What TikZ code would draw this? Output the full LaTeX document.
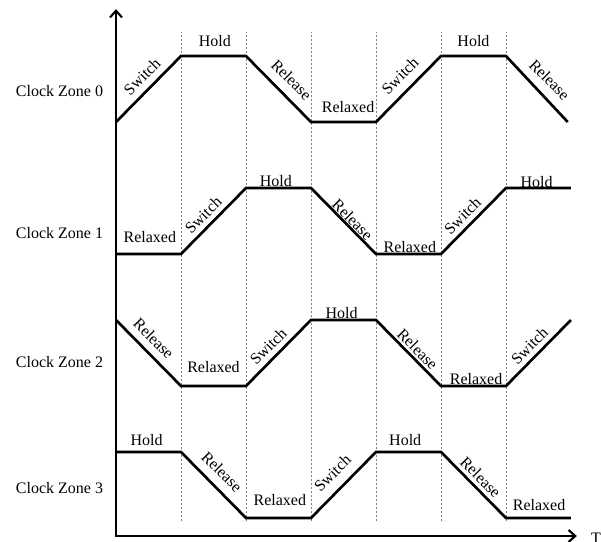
\documentclass[tikz,border=0pt]{standalone}
\usepackage{fontspec}
\setmainfont{Liberation Serif}
\usetikzlibrary{arrows.meta}

\begin{document}
\begin{tikzpicture}[x=48.75pt, y=49.5pt]

\tikzstyle{every node} = [font=\fontsize{12}{14}\selectfont, inner sep=0pt]
\tikzstyle{wave} = [line width=2pt, line join=miter]
\tikzstyle{slot} = [gray, line width=0.5pt, dash pattern=on 1.5pt off 1.5pt]
\tikzstyle{axis} = [line width=2pt, >={Straight Barb[length=5pt,width=9pt,line width=1.6pt]}, <->]
\tikzstyle{up} = [rotate=45]
\tikzstyle{down} = [rotate=-45]

\useasboundingbox (-1.785,-0.364) rectangle (7.462,7.849);

% slot boundaries
\draw[slot] (1,-0.05) -- (1,7.36);
\draw[slot] (2,-0.05) -- (2,7.36);
\draw[slot] (3,-0.05) -- (3,7.36);
\draw[slot] (4,-0.05) -- (4,7.36);
\draw[slot] (5,-0.05) -- (5,7.36);
\draw[slot] (6,-0.05) -- (6,7.36);

% axes
\coordinate (o) at (0,-0.273);
\coordinate (v) at (0,7.71);
\coordinate (t) at (7.09,-0.273);
\draw[axis] (v) -- (o) -- (t);
\node[anchor=north] (tl) at (7.385,-0.227) {T};

% zone names
\node (z0) at (-0.87,6.47) {Clock Zone 0};
\node (z1) at (-0.87,4.32) {Clock Zone 1};
\node (z2) at (-0.87,2.36) {Clock Zone 2};
\node (z3) at (-0.87,0.455) {Clock Zone 3};

% waveforms
\draw[wave] (0,6) -- (1,7) -- (2,7) -- (3,6) -- (4,6) -- (5,7) -- (6,7) -- (6.95,6);
\draw[wave] (0,4) -- (1,4) -- (2,5) -- (3,5) -- (4,4) -- (5,4) -- (6,5) -- (7,5);
\draw[wave] (0,3) -- (1,2) -- (2,2) -- (3,3) -- (4,3) -- (5,2) -- (6,2) -- (7,3);
\draw[wave] (0,1) -- (1,1) -- (2,0) -- (3,0) -- (4,1) -- (5,1) -- (6,0) -- (7,0);

% zone 0
\node[up] (a0) at (0.40,6.69) {Switch};
\node (a1) at (1.52,7.22) {Hold};
\node[down] (a2) at (2.70,6.64) {Release};
\node (a3) at (3.57,6.22) {Relaxed};
\node[up] (a4) at (4.37,6.70) {Switch};
\node (a5) at (5.50,7.22) {Hold};
\node[down] (a6) at (6.67,6.64) {Release};

% zone 1
\node (b0) at (0.52,4.26) {Relaxed};
\node[up] (b1) at (1.34,4.59) {Switch};
\node (b2) at (2.46,5.10) {Hold};
\node[down] (b3) at (3.64,4.52) {Release};
\node (b4) at (4.52,4.10) {Relaxed};
\node[up] (b5) at (5.33,4.58) {Switch};
\node (b6) at (6.47,5.09) {Hold};

% zone 2
\node[down] (c0) at (0.58,2.72) {Release};
\node (c1) at (1.50,2.28) {Relaxed};
\node[up] (c2) at (2.34,2.60) {Switch};
\node (c3) at (3.47,3.11) {Hold};
\node[down] (c4) at (4.64,2.56) {Release};
\node (c5) at (5.54,2.10) {Relaxed};
\node[up] (c6) at (6.36,2.61) {Switch};

% zone 3
\node (d0) at (0.47,1.18) {Hold};
\node[down] (d1) at (1.63,0.70) {Release};
\node (d2) at (2.52,0.27) {Relaxed};
\node[up] (d3) at (3.33,0.68) {Switch};
\node (d4) at (4.45,1.18) {Hold};
\node[down] (d5) at (5.61,0.62) {Release};
\node (d6) at (6.51,0.19) {Relaxed};

\end{tikzpicture}
\end{document}
